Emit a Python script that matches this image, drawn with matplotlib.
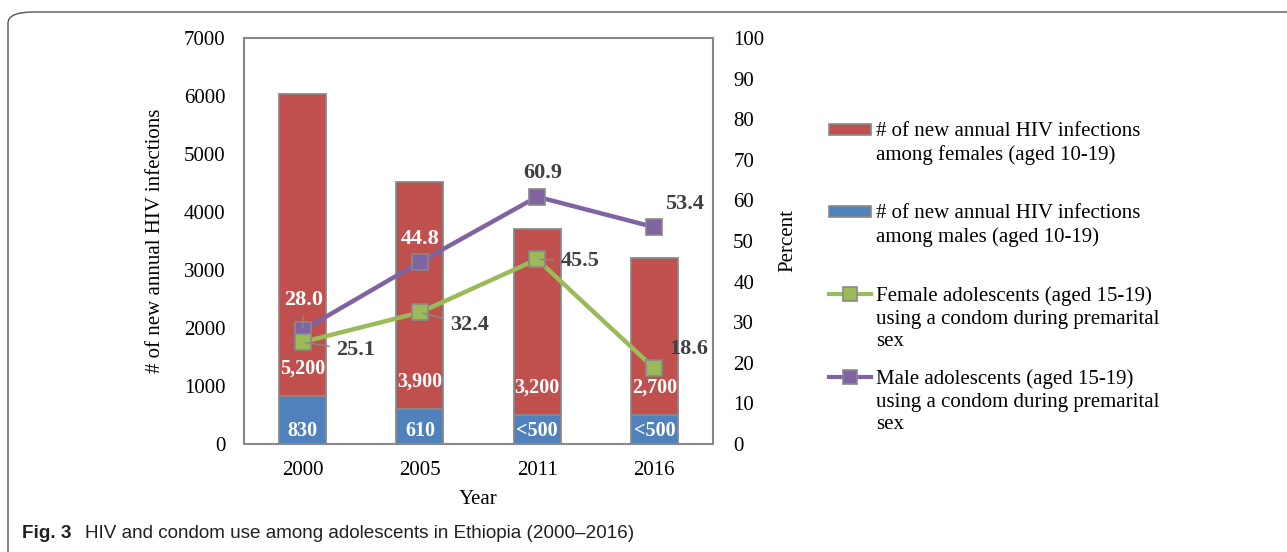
import matplotlib.pyplot as plt
from matplotlib.patches import FancyBboxPatch, Rectangle
from matplotlib.lines import Line2D
import numpy as np

# data
years = ["2000", "2005", "2011", "2016"]
males_hiv = [830, 610, 500, 500]
females_hiv = [5200, 3900, 3200, 2700]
males_lbl = ["830", "610", "<500", "<500"]
females_lbl = ["5,200", "3,900", "3,200", "2,700"]
female_condom = [25.1, 32.4, 45.5, 18.6]
male_condom = [28.0, 44.8, 60.9, 53.4]

RED = "#C0504D"
BLUE = "#4F81BD"
GREEN = "#9BBB59"
PURPLE = "#8064A2"
GRAY = "#898989"
DARK = "#404040"

plt.rcParams["font.family"] = ["Liberation Serif", "DejaVu Serif"]
plt.rcParams["font.size"] = 15

W, H = 1287, 552
fig = plt.figure(figsize=(W / 100, H / 100), dpi=100)

def fx(px):
    return px / W

def fy(py):
    return 1 - py / H

ax = fig.add_axes([fx(244), fy(444), fx(713) - fx(244), fy(38) - fy(444)])
x = np.arange(len(years))
bw = 0.4

ax.bar(x, males_hiv, bw, color=BLUE, edgecolor=GRAY, linewidth=1.3, zorder=2)
ax.bar(x, females_hiv, bw, bottom=males_hiv, color=RED, edgecolor=GRAY, linewidth=1.3, zorder=2)

for i in range(len(years)):
    ax.annotate(males_lbl[i], (x[i], 0), xytext=(0, 9.5), textcoords="offset points",
                ha="center", va="center", color="white", fontweight="bold", fontsize=14.5)
    ax.annotate(females_lbl[i], (x[i], males_hiv[i]), xytext=(0, 19.5), textcoords="offset points",
                ha="center", va="center", color="white", fontweight="bold", fontsize=14.5)

ax.set_xlim(-0.5, 3.5)
ax.set_ylim(0, 7000)
ax.set_yticks(range(0, 7001, 1000))
ax.set_xticks(x)
ax.set_xticklabels(years)
ax.tick_params(axis="both", length=0)
ax.tick_params(axis="y", pad=13.5)
ax.tick_params(axis="x", pad=12)
for s in ax.spines.values():
    s.set_color(GRAY)
    s.set_linewidth(1.5)
ax.set_ylabel("# of new annual HIV infections")
ax.yaxis.set_label_coords(-0.168, 0.5)
ax.set_xlabel("Year")
ax.xaxis.set_label_coords(0.5, -0.113)

ax2 = ax.twinx()
ax2.set_ylim(0, 100)
ax2.set_yticks(range(0, 101, 10))
ax2.tick_params(axis="y", length=0, pad=14.5)
for s in ax2.spines.values():
    s.set_visible(False)
ax2.set_ylabel("Percent")
ax2.yaxis.set_label_coords(1.139, 0.5)

ax2.plot(x, male_condom, color=PURPLE, lw=3.2, marker="s", markersize=12,
         markerfacecolor=PURPLE, markeredgecolor=GRAY, markeredgewidth=1.2, zorder=3)
ax2.plot(x, female_condom, color=GREEN, lw=3.2, marker="s", markersize=12,
         markerfacecolor=GREEN, markeredgecolor=GRAY, markeredgewidth=1.2, zorder=4)

# line labels: (dx, dy) in points, colour, leader line
male_off = [(1, 22, "white", True), (0, 17, "white", False), (4, 17, DARK, False), (22, 17, DARK, False)]
female_off = [(38, -6, DARK, True), (36, -9, DARK, True), (31, -1, DARK, True), (25, 14, DARK, False)]

for vals, offs in ((male_condom, male_off), (female_condom, female_off)):
    for i, v in enumerate(vals):
        dx, dy, c, lead = offs[i]
        arrow = dict(arrowstyle="-", color=GRAY, lw=1.1, shrinkA=3, shrinkB=2) if lead else None
        ax2.annotate(f"{v:.1f}", (x[i], v), xytext=(dx, dy), textcoords="offset points",
                     ha="center", va="center", color=c, fontweight="bold", fontsize=16,
                     zorder=5, arrowprops=arrow)

# legend (drawn by hand to keep handles beside the first line)
leg_x0, leg_x1, txt_x = 829, 871, 876
entries = [
    ("patch", RED, 130, "# of new annual HIV infections\namong females (aged 10-19)"),
    ("patch", BLUE, 212, "# of new annual HIV infections\namong males (aged 10-19)"),
    ("line", GREEN, 294, "Female adolescents (aged 15-19)\nusing a condom during premarital\nsex"),
    ("line", PURPLE, 377, "Male adolescents (aged 15-19)\nusing a condom during premarital\nsex"),
]
for kind, col, yy, lab in entries:
    if kind == "patch":
        fig.add_artist(Rectangle((fx(leg_x0), fy(yy + 5)), fx(leg_x1) - fx(leg_x0), fy(yy - 6) - fy(yy + 5),
                                 transform=fig.transFigure, facecolor=col, edgecolor=GRAY, lw=1.2))
    else:
        fig.add_artist(Line2D([fx(leg_x0), fx(leg_x1)], [fy(yy), fy(yy)], transform=fig.transFigure,
                              color=col, lw=3))
        fig.add_artist(Line2D([fx(850)], [fy(yy)], transform=fig.transFigure, marker="s",
                              markersize=10, markerfacecolor=col, markeredgecolor=GRAY,
                              markeredgewidth=1.2, linestyle="none"))
    fig.text(fx(txt_x), fy(yy - 8), lab, ha="left", va="top", fontsize=15, color="black",
             linespacing=1.27)

# outer frame and caption
fig.add_artist(FancyBboxPatch((fx(8), -0.1), 1.2, fy(12) + 0.1,
                              boxstyle="round,pad=0,rounding_size=0.02",
                              transform=fig.transFigure, facecolor="none", edgecolor="#555555", lw=1))
cap_font = ["Liberation Sans Narrow", "Liberation Sans", "DejaVu Sans"]
fig.text(fx(22), fy(534), "Fig. 3", ha="left", va="center", fontsize=13.6,
         fontweight="bold", family=cap_font, color="#231F20")
fig.text(fx(85), fy(534), "HIV and condom use among adolescents in Ethiopia (2000\u20132016)",
         ha="left", va="center", fontsize=13.6, family=cap_font, color="#231F20")

fig.savefig("out.png", dpi=100)
